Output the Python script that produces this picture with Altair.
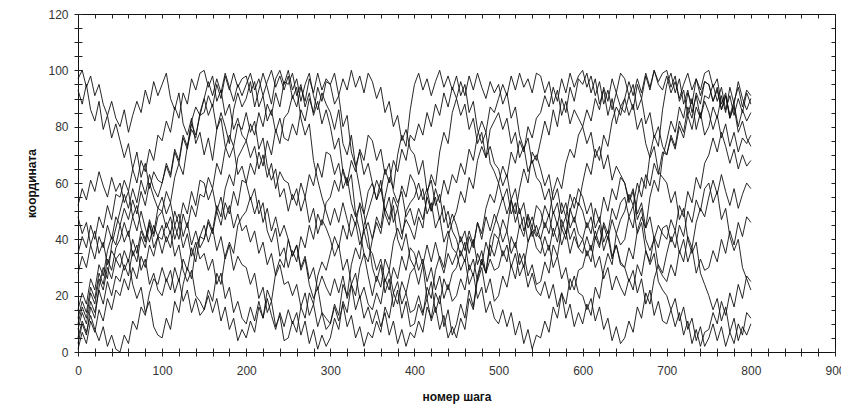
import altair as alt
import pandas as pd

STEPS = list(range(0, 801, 5))

walk_a = [97, 100, 94, 98, 91, 95, 88, 84, 89, 83,
          80, 86, 78, 84, 89, 85, 93, 88, 96, 91,
          95, 99, 90, 86, 92, 81, 77, 83, 74, 78,
          70, 76, 68, 79, 85, 80, 74, 86, 92, 87,
          90, 96, 87, 93, 99, 94, 88, 97, 100, 95,
          100, 93, 97, 89, 95, 99, 91, 86, 92, 88,
          85, 79, 86, 74, 70, 77, 66, 71, 63, 67,
          60, 54, 61, 49, 45, 52, 40, 36, 42, 33,
          30, 24, 31, 19, 25, 14, 20, 9, 15, 6,
          10, 17, 12, 22, 16, 27, 33, 28, 38, 34,
          40, 47, 43, 54, 49, 58, 65, 60, 71, 68,
          75, 82, 77, 86, 80, 90, 85, 94, 89, 97,
          95, 99, 92, 97, 88, 93, 84, 90, 81, 87,
          85, 91, 86, 95, 90, 98, 93, 100, 96, 99,
          100, 94, 98, 89, 93, 84, 90, 79, 85, 77,
          80, 87, 83, 91, 85, 94, 88, 96, 90, 86,
          90]

walk_b = [93, 88, 95, 86, 82, 89, 79, 84, 76, 81,
          75, 69, 74, 65, 71, 62, 67, 58, 64, 61,
          60, 66, 62, 71, 67, 76, 72, 81, 77, 84,
          85, 91, 87, 95, 90, 98, 93, 99, 94, 97,
          98, 92, 96, 87, 91, 82, 86, 78, 83, 76,
          75, 81, 77, 86, 82, 90, 85, 94, 89, 96,
          95, 99, 91, 97, 93, 100, 94, 98, 92, 99,
          96, 90, 94, 85, 89, 80, 84, 75, 79, 72,
          70, 63, 68, 57, 61, 52, 56, 46, 50, 43,
          40, 34, 39, 29, 33, 25, 30, 21, 26, 18,
          20, 27, 23, 31, 26, 35, 30, 39, 44, 41,
          45, 52, 48, 57, 62, 58, 67, 72, 69, 77,
          80, 86, 82, 90, 86, 94, 89, 97, 92, 99,
          97, 91, 95, 86, 90, 81, 85, 76, 80, 73,
          70, 77, 73, 82, 78, 87, 83, 92, 88, 96,
          95, 89, 94, 86, 91, 83, 88, 80, 86, 82,
          85]

walk_c = [52, 58, 54, 61, 57, 64, 59, 55, 62, 57,
          60, 53, 57, 48, 52, 44, 40, 46, 37, 41,
          35, 41, 37, 45, 40, 49, 44, 52, 48, 56,
          55, 62, 58, 67, 63, 72, 77, 73, 81, 79,
          85, 78, 82, 72, 76, 66, 61, 65, 55, 58,
          50, 56, 52, 60, 55, 63, 59, 67, 62, 71,
          70, 63, 67, 58, 62, 53, 48, 52, 43, 46,
          40, 48, 44, 55, 62, 58, 70, 77, 73, 86,
          95, 99, 93, 97, 91, 96, 100, 94, 98, 93,
          98, 91, 95, 85, 89, 79, 74, 78, 67, 64,
          60, 54, 58, 49, 53, 44, 48, 39, 43, 37,
          35, 41, 36, 44, 39, 47, 42, 51, 46, 53,
          50, 44, 48, 40, 45, 36, 41, 33, 38, 31,
          30, 37, 33, 43, 48, 44, 55, 61, 57, 69,
          75, 82, 78, 87, 83, 92, 88, 97, 93, 99,
          100, 94, 97, 88, 92, 83, 87, 78, 82, 76,
          73]

walk_d = [48, 42, 46, 38, 43, 35, 39, 31, 36, 33,
          30, 36, 32, 40, 35, 43, 39, 47, 42, 51,
          50, 57, 53, 62, 67, 63, 73, 79, 76, 85,
          90, 84, 88, 79, 83, 73, 69, 73, 63, 66,
          60, 54, 58, 49, 53, 43, 39, 44, 34, 37,
          30, 36, 32, 41, 37, 45, 40, 49, 45, 53,
          55, 61, 57, 65, 60, 68, 64, 72, 68, 77,
          75, 68, 72, 63, 67, 57, 53, 57, 48, 51,
          45, 51, 47, 55, 50, 58, 53, 61, 56, 63,
          60, 67, 63, 72, 68, 77, 82, 78, 87, 85,
          90, 95, 91, 98, 93, 99, 94, 97, 92, 99,
          98, 92, 96, 88, 93, 84, 89, 81, 86, 83,
          80, 74, 78, 69, 73, 65, 70, 61, 66, 63,
          60, 54, 58, 49, 53, 44, 48, 40, 45, 42,
          40, 47, 43, 52, 48, 57, 53, 62, 58, 67,
          70, 76, 71, 78, 73, 67, 72, 65, 70, 66,
          68]

walk_e = [28, 34, 30, 38, 33, 41, 37, 45, 40, 48,
          45, 39, 43, 34, 38, 29, 33, 24, 28, 22,
          20, 26, 22, 30, 25, 33, 29, 37, 32, 41,
          40, 46, 42, 50, 45, 53, 49, 57, 52, 61,
          60, 67, 63, 71, 66, 75, 70, 79, 74, 83,
          85, 91, 87, 94, 89, 97, 92, 99, 93, 97,
          95, 88, 91, 80, 84, 71, 66, 58, 49, 41,
          30, 25, 31, 21, 26, 16, 22, 12, 18, 9,
          10, 17, 13, 23, 19, 29, 34, 30, 41, 46,
          50, 57, 53, 62, 58, 68, 73, 69, 79, 82,
          85, 79, 83, 74, 78, 69, 73, 64, 68, 62,
          60, 54, 58, 49, 53, 44, 48, 40, 44, 37,
          35, 41, 36, 43, 38, 45, 40, 47, 42, 38,
          40, 48, 44, 55, 62, 58, 70, 77, 73, 86,
          95, 99, 92, 97, 88, 93, 85, 91, 83, 89,
          85, 79, 84, 76, 81, 73, 78, 71, 76, 74,
          77]

walk_f = [15, 21, 17, 26, 22, 31, 27, 36, 41, 38,
          45, 51, 47, 54, 49, 57, 52, 60, 55, 51,
          55, 49, 53, 45, 49, 41, 46, 38, 43, 37,
          40, 47, 43, 52, 48, 58, 63, 59, 69, 72,
          75, 81, 77, 85, 80, 88, 84, 92, 87, 96,
          95, 99, 91, 95, 87, 92, 84, 89, 81, 86,
          80, 72, 76, 64, 59, 63, 49, 43, 35, 27,
          20, 27, 23, 33, 29, 39, 44, 40, 50, 53,
          55, 60, 54, 58, 50, 55, 47, 52, 44, 49,
          45, 39, 43, 35, 40, 31, 36, 28, 33, 29,
          30, 36, 32, 41, 37, 45, 41, 49, 44, 52,
          50, 44, 49, 41, 46, 38, 43, 35, 41, 37,
          40, 46, 42, 51, 46, 55, 50, 58, 54, 62,
          60, 53, 57, 47, 51, 40, 36, 40, 30, 27,
          25, 31, 27, 36, 32, 41, 37, 46, 51, 48,
          55, 61, 56, 63, 57, 52, 58, 51, 56, 60,
          58]

walk_g = [10, 16, 12, 21, 17, 26, 22, 30, 26, 33,
          35, 29, 33, 24, 19, 23, 14, 18, 9, 6,
          5, 12, 8, 18, 14, 24, 30, 26, 37, 41,
          45, 39, 44, 36, 41, 33, 38, 29, 34, 31,
          30, 24, 28, 19, 23, 14, 18, 9, 13, 4,
          5, 11, 7, 16, 12, 21, 17, 27, 32, 29,
          35, 41, 37, 45, 40, 49, 45, 53, 49, 57,
          60, 54, 58, 50, 55, 46, 51, 42, 47, 44,
          40, 48, 44, 56, 63, 59, 71, 78, 74, 85,
          90, 96, 91, 98, 93, 99, 94, 90, 96, 92,
          95, 88, 92, 83, 87, 77, 72, 76, 67, 70,
          65, 59, 63, 54, 58, 49, 53, 44, 48, 42,
          40, 34, 38, 30, 34, 26, 30, 22, 27, 23,
          20, 26, 22, 31, 27, 36, 32, 41, 37, 44,
          45, 39, 43, 35, 40, 32, 37, 28, 33, 29,
          30, 36, 32, 40, 35, 43, 38, 46, 41, 48,
          46]

walk_h = [5, 11, 7, 13, 8, 4, 9, 2, 6, 1,
          0, 6, 3, 11, 8, 16, 13, 21, 26, 24,
          30, 25, 29, 21, 26, 18, 22, 14, 19, 13,
          15, 22, 18, 28, 24, 34, 39, 35, 45, 48,
          50, 55, 49, 54, 46, 51, 43, 48, 41, 45,
          40, 34, 38, 29, 33, 24, 19, 23, 14, 12,
          10, 16, 11, 17, 9, 13, 5, 9, 2, 7,
          5, 11, 7, 16, 12, 21, 17, 25, 21, 28,
          30, 36, 31, 38, 32, 39, 33, 28, 35, 31,
          35, 29, 33, 24, 28, 19, 23, 14, 18, 12,
          10, 15, 9, 14, 6, 11, 3, 8, 1, 6,
          5, 11, 7, 16, 12, 21, 17, 26, 22, 29,
          30, 36, 32, 41, 37, 46, 42, 51, 47, 53,
          55, 48, 52, 42, 46, 36, 31, 35, 25, 22,
          20, 15, 19, 11, 16, 8, 12, 4, 9, 2,
          5, 10, 4, 9, 2, 7, 3, 10, 6, 14,
          12]

walk_i = [3, 10, 6, 16, 12, 23, 30, 26, 38, 44,
          50, 56, 51, 58, 53, 61, 56, 63, 58, 55,
          60, 67, 63, 72, 68, 77, 73, 82, 87, 84,
          90, 96, 91, 97, 92, 99, 94, 89, 95, 91,
          95, 99, 93, 97, 91, 96, 100, 94, 98, 93,
          98, 90, 94, 83, 77, 81, 68, 61, 55, 50,
          45, 51, 46, 53, 47, 41, 46, 38, 43, 37,
          35, 29, 33, 25, 29, 21, 25, 17, 21, 14,
          15, 20, 14, 19, 11, 16, 8, 13, 5, 9,
          5, 12, 8, 19, 15, 26, 32, 28, 40, 45,
          50, 55, 49, 54, 46, 51, 43, 48, 41, 45,
          40, 34, 38, 30, 34, 26, 30, 22, 27, 21,
          20, 15, 19, 11, 16, 8, 12, 4, 9, 3,
          5, 11, 7, 16, 12, 21, 17, 26, 31, 28,
          35, 41, 37, 45, 41, 50, 46, 54, 50, 58,
          60, 53, 57, 47, 51, 41, 36, 40, 30, 26,
          22]

walk_j = [8, 14, 10, 18, 14, 22, 17, 25, 20, 27,
          25, 31, 27, 36, 32, 41, 37, 45, 41, 48,
          50, 44, 48, 40, 45, 37, 42, 34, 39, 33,
          35, 29, 33, 24, 28, 19, 23, 14, 18, 12,
          10, 16, 11, 18, 12, 19, 13, 8, 14, 9,
          15, 10, 14, 6, 11, 3, 8, 1, 6, 2,
          5, 12, 8, 18, 14, 24, 20, 30, 35, 32,
          40, 46, 42, 51, 47, 55, 51, 59, 55, 63,
          60, 54, 58, 49, 53, 44, 48, 39, 43, 37,
          35, 41, 36, 43, 38, 46, 40, 48, 43, 49,
          45, 39, 43, 35, 39, 31, 35, 27, 31, 24,
          25, 32, 28, 38, 34, 44, 40, 50, 55, 52,
          60, 67, 63, 72, 68, 77, 73, 82, 87, 84,
          90, 96, 91, 97, 92, 99, 94, 100, 95, 93,
          98, 92, 96, 90, 95, 99, 93, 97, 91, 96,
          95, 89, 93, 86, 91, 84, 89, 94, 87, 93,
          91]

walk_k = [12, 18, 14, 23, 19, 28, 24, 33, 29, 37,
          40, 46, 41, 48, 43, 50, 44, 39, 45, 41,
          45, 39, 43, 34, 38, 29, 25, 29, 20, 18,
          15, 20, 14, 19, 11, 16, 8, 12, 4, 8,
          5, 11, 7, 16, 12, 22, 18, 28, 33, 30,
          40, 34, 38, 30, 34, 26, 30, 22, 27, 23,
          20, 26, 21, 27, 19, 24, 15, 20, 12, 16,
          10, 15, 9, 14, 6, 11, 3, 8, 2, 7,
          5, 11, 7, 16, 12, 21, 17, 26, 22, 28,
          30, 36, 32, 41, 37, 46, 42, 51, 56, 53,
          60, 66, 62, 71, 67, 75, 71, 80, 76, 83,
          85, 91, 87, 94, 89, 97, 92, 99, 94, 98,
          100, 94, 98, 91, 96, 88, 93, 86, 92, 87,
          90, 84, 88, 79, 83, 74, 69, 73, 64, 62,
          60, 53, 57, 47, 51, 40, 35, 39, 28, 24,
          20, 15, 19, 11, 16, 7, 12, 4, 9, 6,
          10]

walk_l = [1, 7, 3, 11, 7, 15, 11, 19, 15, 22,
          20, 26, 22, 30, 26, 34, 30, 38, 34, 41,
          40, 46, 42, 50, 45, 53, 49, 57, 52, 61,
          60, 54, 58, 50, 55, 47, 52, 44, 49, 43,
          45, 39, 43, 35, 39, 31, 35, 27, 31, 24,
          25, 20, 24, 16, 21, 13, 17, 9, 14, 8,
          10, 17, 13, 24, 20, 31, 37, 33, 45, 50,
          55, 61, 57, 65, 60, 68, 64, 72, 68, 77,
          75, 81, 77, 85, 80, 88, 84, 92, 87, 94,
          90, 84, 88, 79, 83, 74, 78, 69, 73, 67,
          65, 59, 63, 54, 58, 49, 53, 44, 48, 42,
          40, 46, 42, 50, 45, 53, 48, 56, 51, 58,
          55, 49, 53, 44, 48, 39, 43, 34, 38, 32,
          30, 25, 29, 21, 26, 17, 22, 13, 18, 11,
          10, 15, 9, 14, 6, 11, 3, 8, 2, 7,
          8, 14, 10, 18, 13, 21, 16, 24, 19, 27,
          25]

walk_m = [35, 41, 37, 45, 40, 48, 44, 52, 47, 56,
          55, 61, 57, 65, 60, 68, 64, 72, 68, 77,
          75, 82, 78, 87, 83, 92, 88, 97, 93, 99,
          100, 94, 98, 89, 93, 84, 88, 79, 83, 77,
          75, 69, 73, 65, 70, 62, 67, 58, 64, 61,
          60, 54, 58, 50, 55, 46, 51, 42, 47, 44,
          40, 34, 38, 29, 33, 24, 28, 19, 23, 17,
          15, 21, 17, 26, 22, 30, 26, 34, 29, 37,
          35, 29, 33, 25, 30, 22, 27, 19, 24, 18,
          20, 26, 22, 31, 27, 35, 31, 39, 34, 42,
          40, 34, 38, 30, 35, 27, 31, 23, 28, 22,
          20, 25, 19, 24, 16, 21, 12, 17, 9, 14,
          10, 17, 13, 23, 19, 29, 35, 31, 42, 47,
          50, 56, 52, 60, 55, 63, 59, 67, 63, 71,
          70, 76, 72, 80, 76, 84, 79, 87, 83, 91,
          90, 95, 89, 94, 86, 91, 84, 90, 85, 92,
          88]

WALKS = {
    "a": walk_a, "b": walk_b, "c": walk_c, "d": walk_d, "e": walk_e,
    "f": walk_f, "g": walk_g, "h": walk_h, "i": walk_i, "j": walk_j,
    "k": walk_k, "l": walk_l, "m": walk_m,
}

X_TICKS = list(range(0, 901, 20))
Y_TICKS = list(range(0, 121, 5))

rows = []
for name, vals in WALKS.items():
    for s, v in zip(STEPS, vals):
        rows.append({"step": s, "coord": v, "walk": name})
df = pd.DataFrame(rows)

x_scale = alt.Scale(domain=[0, 900], nice=False, zero=False)
y_scale = alt.Scale(domain=[0, 120], nice=False, zero=False)

lines = alt.Chart(df).mark_line(color="#111111", strokeWidth=0.9).encode(
    x=alt.X("step:Q", scale=x_scale,
            axis=alt.Axis(orient="bottom", values=X_TICKS,
                          labelExpr="datum.value % 100 === 0 ? datum.label : ''",
                          title="номер шага", offset=-4, tickSize=8, domain=False,
                          grid=False, labelFlush=False, labelOverlap=False,
                          labelPadding=9, titlePadding=15, format="d")),
    y=alt.Y("coord:Q", scale=y_scale,
            axis=alt.Axis(orient="left", values=Y_TICKS,
                          labelExpr="datum.value % 20 === 0 ? datum.label : ''",
                          title="координата", offset=-4, tickSize=8, domain=False,
                          grid=False, labelOverlap=False, labelFlush=False,
                          labelPadding=6, titlePadding=9, format="d")),
    detail="walk:N",
)

frame_axes = alt.Chart(df).mark_line(opacity=0).encode(
    x=alt.X("step:Q", scale=x_scale,
            axis=alt.Axis(orient="top", values=X_TICKS, labels=False, title=None,
                          offset=-4, tickSize=4, domain=False, grid=False)),
    y=alt.Y("coord:Q", scale=y_scale,
            axis=alt.Axis(orient="right", values=Y_TICKS, labels=False, title=None,
                          offset=-4, tickSize=4, domain=False, grid=False)),
    detail="walk:N",
)

chart = alt.layer(lines, frame_axes).resolve_axis(
    x="independent", y="independent"
).properties(
    width=757, height=338,
    autosize=alt.AutoSizeParams(type="none"),
    padding={"left": 78, "top": 14, "right": 6, "bottom": 62},
    background="white",
).configure_view(
    stroke="#111111", strokeWidth=1
).configure_axis(
    labelFont="Liberation Sans", labelFontSize=12, labelColor="#333333",
    titleFont="Liberation Sans", titleFontSize=12, titleFontWeight="bold",
    titleColor="#111111", tickColor="#222222", tickWidth=1,
)

chart.save("out.html", embed_options={"renderer": "svg", "actions": False})
